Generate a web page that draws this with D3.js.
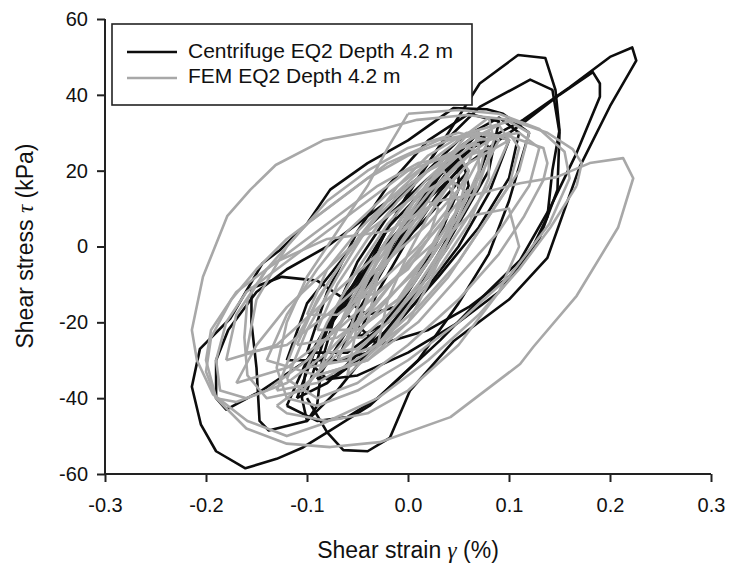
<!DOCTYPE html>
<html><head><meta charset="utf-8">
<script src="https://cdn.jsdelivr.net/npm/d3@7"></script>
<style>body{margin:0;background:#fff}svg{display:block}text{font-family:Arial,"Liberation Sans",sans-serif;fill:#111}</style>
</head><body><svg id="c" width="731" height="572"></svg>
<script>
const xTicks = [-0.3,-0.2,-0.1,0.0,0.1,0.2,0.3];
const yTicks = [-60,-40,-20,0,20,40,60];
const seriesNames = ["Centrifuge EQ2 Depth 4.2 m","FEM EQ2 Depth 4.2 m"];

// Centrifuge loops: [shear strain %, shear stress kPa]
const centrifugeLoops = [
 [[-0.1,-38],[-0.08,-22],[-0.05,-8],[-0.02,5],[0.02,16],[0.06,25.5],[0.114,33.4],[0.16,42],[0.2,50],[0.222,52.5],[0.226,49],[0.2,37],[0.17,21],[0.138,-3],[0.1,-14],[0.07,-20],[0.045,-25],[0.002,-38],[-0.018,-50.5],[-0.04,-54],[-0.064,-53.7],[-0.08,-49],[-0.1,-40]],
 [[-0.12,-42],[-0.1,-30],[-0.07,-16],[-0.03,-2],[0.01,10],[0.05,20],[0.09,28],[0.114,32.6],[0.15,40],[0.183,46],[0.19,43],[0.19,39.5],[0.167,24.7],[0.141,10.4],[0.111,-3.6],[0.071,-14],[0.032,-24.7],[0.0,-32.6],[-0.03,-40],[-0.06,-45],[-0.09,-46],[-0.12,-42]],
 [[-0.1,-30],[-0.07,-18],[-0.04,-6],[-0.02,5],[0.01,18],[0.04,30],[0.071,43],[0.109,50.5],[0.136,49.7],[0.146,41.3],[0.15,30.7],[0.143,20.2],[0.138,7.8],[0.12,-2],[0.09,-12],[0.05,-20],[0.0,-28],[-0.05,-34],[-0.08,-35],[-0.1,-30]],
 [[-0.06,-18],[-0.03,0],[0.0,14],[0.03,26],[0.071,36.8],[0.121,44],[0.143,41.3],[0.15,30],[0.148,15],[0.13,2],[0.1,-8],[0.06,-16],[0.02,-22],[-0.03,-26],[-0.06,-18]],
 [[0.12,30],[0.1,12],[0.08,-2],[0.05,-15],[0.01,-30],[-0.038,-42],[-0.08,-49],[-0.104,-53],[-0.13,-56],[-0.161,-58.5],[-0.19,-54],[-0.205,-47],[-0.214,-37],[-0.206,-27],[-0.176,-19],[-0.144,-4.4],[-0.127,-1],[-0.1,6],[-0.077,15],[-0.04,22],[0.0,28],[0.045,36.5],[0.078,36.2],[0.094,35],[0.12,30]],
 [[0.07,30],[0.04,22],[0.0,8],[-0.02,-2],[-0.06,-18],[-0.1,-30],[-0.145,-38],[-0.18,-43],[-0.19,-40],[-0.19,-30],[-0.178,-22],[-0.15,-12],[-0.12,-6],[-0.08,0],[-0.04,8],[0.0,16],[0.04,24],[0.07,30]],
 [[0.04,0],[0.0,-15],[-0.04,-18],[-0.09,-9],[-0.125,-8],[-0.155,-11],[-0.155,-20],[-0.15,-32],[-0.147,-46],[-0.138,-48.5],[-0.1,-46],[-0.07,-38],[-0.04,-28],[0.0,-15],[0.04,0]],
 [[0.06,20],[0.02,8],[-0.03,-6],[-0.07,-18],[-0.1,-30],[-0.105,-40],[-0.1,-46],[-0.09,-42],[-0.085,-30],[-0.07,-16],[-0.05,-4],[-0.02,8],[0.02,18],[0.05,24]],
 [[-0.07,-30],[-0.05,-18],[-0.02,-4],[0.01,10],[0.04,22],[0.07,30],[0.08,26],[0.06,12],[0.03,-2],[0.0,-16],[-0.04,-28],[-0.07,-30]],
 [[-0.09,-35],[-0.06,-22],[-0.03,-8],[0.0,6],[0.04,20],[0.08,30],[0.1,28],[0.08,14],[0.05,0],[0.01,-14],[-0.03,-26],[-0.07,-34],[-0.09,-35]],
 [[-0.05,-24],[-0.03,-12],[0.0,2],[0.03,14],[0.055,22],[0.06,16],[0.04,4],[0.01,-8],[-0.02,-20],[-0.05,-24]],
 [[-0.1,-28],[-0.08,-12],[-0.05,4],[-0.02,16],[0.02,28],[0.06,35],[0.09,33],[0.08,20],[0.05,6],[0.02,-8],[-0.02,-20],[-0.06,-28],[-0.1,-28]],
 [[-0.11,-40],[-0.09,-26],[-0.06,-12],[-0.03,-2],[0.0,10],[0.03,20],[0.05,24],[0.05,15],[0.03,2],[0.0,-12],[-0.04,-26],[-0.08,-36],[-0.11,-40]],
 [[-0.12,-30],[-0.1,-15],[-0.07,-5],[-0.04,5],[0.0,15],[0.05,28],[0.09,34],[0.11,30],[0.1,18],[0.07,5],[0.03,-8],[-0.01,-20],[-0.06,-30],[-0.12,-30]]
];

// FEM loops: [shear strain %, shear stress kPa]
const femLoops = [
 [[0.167,16],[0.141,5],[0.11,-6],[0.07,-18],[0.02,-30],[-0.03,-40],[-0.087,-47],[-0.12,-50],[-0.159,-46],[-0.193,-39],[-0.209,-30],[-0.214,-22],[-0.203,-8],[-0.179,8],[-0.156,15],[-0.131,21.5],[-0.084,28],[-0.025,31],[0.009,33.4],[0.058,34.7],[0.101,33.4],[0.138,30],[0.163,25.7],[0.172,22],[0.167,16]],
 [[-0.02,4],[0.03,12],[0.071,14],[0.111,16.7],[0.147,18.3],[0.18,22],[0.213,23.3],[0.223,18],[0.208,5],[0.167,-13],[0.124,-26.5],[0.111,-31],[0.042,-45],[-0.028,-51.6],[-0.077,-52.9],[-0.12,-52],[-0.16,-48],[-0.19,-40],[-0.2,-30],[-0.195,-22],[-0.17,-12],[-0.13,-4],[-0.08,2],[-0.02,4]],
 [[0.1,28],[0.06,22],[0.02,10],[-0.02,-4],[-0.06,-18],[-0.1,-30],[-0.14,-38],[-0.17,-41],[-0.19,-40],[-0.2,-33],[-0.195,-24],[-0.175,-14],[-0.15,-6],[-0.12,2],[-0.08,10],[-0.04,18],[0.0,24],[0.04,28],[0.08,30],[0.1,28]],
 [[-0.12,-35],[-0.1,-22],[-0.07,-8],[-0.04,5],[-0.01,16],[0.02,24],[0.058,30],[0.101,29],[0.134,26],[0.138,22],[0.134,17.5],[0.115,8],[0.09,-2],[0.05,-14],[0.0,-26],[-0.05,-36],[-0.09,-40],[-0.12,-35]],
 [[0.0,35],[0.05,36],[0.09,35],[0.13,31],[0.155,25],[0.16,18],[0.14,6],[0.1,-8],[0.05,-20],[0.0,-30],[-0.05,-38],[-0.09,-42],[-0.12,-40],[-0.13,-32],[-0.12,-20],[-0.1,-8],[-0.07,4],[-0.04,16],[-0.02,26],[0.0,35]],
 [[0.04,8],[0.0,-4],[-0.04,-18],[-0.08,-30],[-0.104,-38],[-0.14,-40],[-0.159,-34],[-0.162,-24],[-0.159,-14],[-0.14,-6],[-0.11,0],[-0.07,8],[-0.03,16],[0.01,22],[0.05,24]],
 [[0.06,15],[0.02,2],[-0.03,-14],[-0.08,-28],[-0.12,-36],[-0.16,-40],[-0.186,-38],[-0.19,-30],[-0.18,-20],[-0.16,-12],[-0.12,-4],[-0.08,4],[-0.04,12],[0.0,20],[0.04,24]],
 [[-0.13,-42],[-0.12,-44],[-0.08,-46],[-0.04,-44],[0.0,-38],[0.05,-26],[0.09,-12],[0.11,0],[0.1,10],[0.06,8],[0.02,-2],[-0.02,-14],[-0.06,-26],[-0.1,-36],[-0.13,-42]],
 [[-0.13,-38],[-0.11,-24],[-0.08,-10],[-0.05,2],[-0.02,12],[0.02,22],[0.06,30],[0.1,33],[0.12,30],[0.11,20],[0.08,8],[0.05,-4],[0.01,-16],[-0.04,-28],[-0.09,-36],[-0.13,-38]],
 [[-0.14,-30],[-0.12,-18],[-0.09,-6],[-0.06,4],[-0.02,14],[0.02,22],[0.07,28],[0.11,30],[0.13,26],[0.12,16],[0.09,4],[0.05,-8],[0.01,-20],[-0.04,-30],[-0.09,-34],[-0.14,-30]],
 [[-0.08,-28],[-0.06,-16],[-0.03,-2],[0.0,10],[0.03,20],[0.06,26],[0.075,24],[0.065,14],[0.04,2],[0.01,-10],[-0.02,-20],[-0.05,-27],[-0.08,-28]],
 [[-0.06,-24],[-0.045,-12],[-0.025,0],[0.0,10],[0.025,18],[0.05,24],[0.06,20],[0.05,10],[0.03,0],[0.005,-10],[-0.02,-18],[-0.045,-24],[-0.06,-24]],
 [[-0.09,-22],[-0.07,-10],[-0.04,2],[-0.01,12],[0.02,20],[0.05,26],[0.07,27],[0.07,20],[0.05,8],[0.02,-4],[-0.01,-14],[-0.05,-22],[-0.09,-22]],
 [[-0.04,-20],[-0.03,-8],[-0.01,4],[0.01,14],[0.035,20],[0.045,16],[0.035,6],[0.015,-4],[-0.01,-14],[-0.04,-20]],
 [[-0.1,-32],[-0.08,-20],[-0.05,-6],[-0.02,6],[0.02,18],[0.06,28],[0.09,32],[0.1,28],[0.08,16],[0.05,4],[0.02,-8],[-0.02,-20],[-0.06,-30],[-0.1,-32]],
 [[-0.07,-30],[-0.05,-20],[-0.03,-8],[0.0,4],[0.03,16],[0.06,24],[0.08,26],[0.08,18],[0.06,6],[0.03,-6],[0.0,-16],[-0.03,-26],[-0.07,-30]],
 [[-0.05,-14],[-0.03,-4],[0.0,6],[0.02,12],[0.03,10],[0.02,2],[0.0,-6],[-0.03,-12],[-0.05,-14]],
 [[-0.11,-26],[-0.09,-14],[-0.06,-2],[-0.03,8],[0.0,16],[0.04,24],[0.07,30],[0.09,28],[0.07,18],[0.04,6],[0.01,-6],[-0.03,-16],[-0.07,-24],[-0.11,-26]],
 [[-0.09,-34],[-0.07,-22],[-0.04,-8],[-0.01,4],[0.02,14],[0.05,22],[0.08,28],[0.1,30],[0.11,26],[0.1,16],[0.07,4],[0.04,-8],[0.0,-20],[-0.04,-30],[-0.09,-34]],
 [[-0.06,-34],[-0.05,-20],[-0.03,-6],[0.0,8],[0.03,20],[0.06,30],[0.08,34],[0.085,28],[0.07,16],[0.04,2],[0.01,-12],[-0.02,-24],[-0.06,-34]],
 [[-0.1,-18],[-0.08,-6],[-0.05,4],[-0.02,12],[0.02,20],[0.05,24],[0.06,20],[0.04,10],[0.01,0],[-0.03,-10],[-0.07,-18],[-0.1,-18]],
 [[-0.03,-26],[-0.02,-14],[0.0,-2],[0.02,8],[0.04,16],[0.05,12],[0.04,2],[0.02,-10],[0.0,-20],[-0.03,-26]],
 [[-0.17,-36],[-0.15,-26],[-0.12,-16],[-0.08,-6],[-0.04,4],[0.0,12],[0.04,18],[0.06,14],[0.03,2],[-0.02,-10],[-0.07,-22],[-0.12,-32],[-0.17,-36]],
 [[-0.16,-28],[-0.15,-14],[-0.12,0],[-0.08,12],[-0.04,20],[0.0,26],[0.05,30],[0.08,28],[0.06,18],[0.02,6],[-0.03,-6],[-0.08,-18],[-0.12,-26],[-0.16,-28]],
 [[-0.18,-30],[-0.17,-18],[-0.14,-6],[-0.1,6],[-0.06,14],[-0.02,22],[0.03,28],[0.07,30],[0.06,22],[0.02,10],[-0.03,-2],[-0.08,-14],[-0.13,-26],[-0.18,-30]]
];

const svg = d3.select("#c");
const x = d3.scaleLinear().domain([-0.3,0.3]).range([105,711]);
const y = d3.scaleLinear().domain([-60,60]).range([474,19]);
const line = d3.line().x(d=>x(d[0])).y(d=>y(d[1]));

const colors = ["#0d0d0d","#a8a8a8"];
svg.append("g").selectAll("path").data(centrifugeLoops).join("path")
  .attr("d",line).attr("fill","none").attr("stroke",colors[0]).attr("stroke-width",2.6).attr("stroke-linejoin","round");
svg.append("g").selectAll("path").data(femLoops).join("path")
  .attr("d",line).attr("fill","none").attr("stroke",colors[1]).attr("stroke-width",2.6).attr("stroke-linejoin","round");

const xa = svg.append("g").attr("transform","translate(0,474)")
  .call(d3.axisBottom(x).tickValues(xTicks).tickFormat(d=>d.toFixed(1)).tickSizeOuter(0).tickSizeInner(8).tickPadding(16));
const ya = svg.append("g").attr("transform","translate(105,0)")
  .call(d3.axisLeft(y).tickValues(yTicks).tickFormat(d=>String(d)).tickSizeOuter(0).tickSizeInner(8).tickPadding(9));
[xa,ya].forEach(a=>{
  a.select(".domain").attr("stroke","#222").attr("stroke-width",2);
  a.selectAll(".tick line").attr("stroke","#222").attr("stroke-width",2);
  a.selectAll(".tick text").style("font-size","20px").attr("fill","#111").style("font-family","Arial,'Liberation Sans',sans-serif");
});
xa.select(".domain").attr("d","M105,0H711");
ya.select(".domain").attr("d","M0,19V474");

// axis titles
const xt = svg.append("text").attr("x",408).attr("y",558).attr("text-anchor","middle").style("font-size","23px");
xt.append("tspan").text("Shear strain ");
xt.append("tspan").text("γ").style("font-family","'Liberation Serif',serif").style("font-style","italic");
xt.append("tspan").text(" (%)");
const yt = svg.append("text").attr("transform","translate(33,246) rotate(-90)").attr("text-anchor","middle").style("font-size","23px");
yt.append("tspan").text("Shear stress ");
yt.append("tspan").text("τ").style("font-family","'Liberation Serif',serif").style("font-style","italic");
yt.append("tspan").text(" (kPa)");

// legend
const lg = svg.append("g");
lg.append("rect").attr("x",112).attr("y",24).attr("width",360).attr("height",81).attr("fill","#fff").attr("stroke","#222").attr("stroke-width",1.6);
seriesNames.forEach((n,i)=>{
  lg.append("line").attr("x1",127).attr("x2",177).attr("y1",52+i*26).attr("y2",52+i*26).attr("stroke",colors[i]).attr("stroke-width",2.6);
  lg.append("text").attr("x",188).attr("y",58+i*25).style("font-size","21px").text(n);
});
</script></body></html>
